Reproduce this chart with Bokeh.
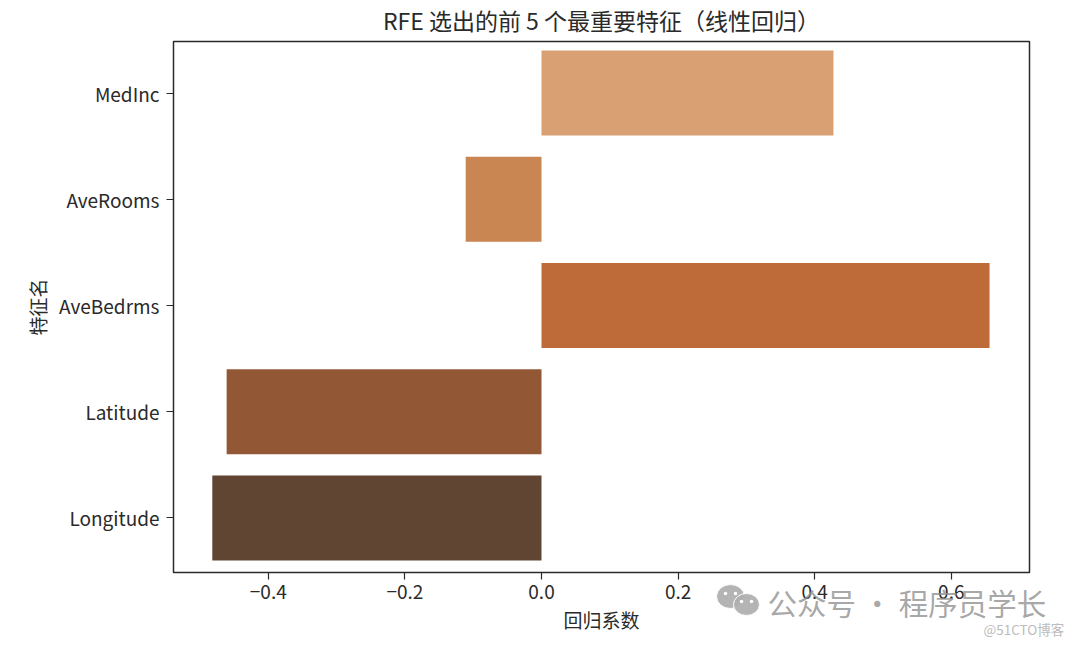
from bokeh.plotting import figure
from bokeh.embed import file_html
from bokeh.resources import INLINE
from bokeh.layouts import column
from bokeh.models import Range1d, FixedTicker
from bokeh.core.properties import value

features = ["MedInc", "AveRooms", "AveBedrms", "Latitude", "Longitude"]
coefs = [0.4275, -0.111, 0.656, -0.461, -0.482]
colors = ["#d9a074", "#c98552", "#bf6b39", "#925835", "#604533"]
x_ticks = [-0.4, -0.2, 0.0, 0.2, 0.4, 0.6]
title = "RFE 选出的前 5 个最重要特征（线性回归）"
xlabel = "回归系数"
ylabel = "特征名"
wm = "公众号 · 程序员学长"
wm2 = "@51CTO博客"

F = "Noto Sans CJK SC"
W, H = 1072, 637
p = figure(width=W, height=H, output_backend="svg", toolbar_location=None,
           y_range=Range1d(4.513, -0.485), x_range=Range1d(-0.5388, 0.7145))
p.frame_align = False
p.min_border_left = 173
p.min_border_right = W - 1029
p.min_border_top = 41
p.min_border_bottom = H - 572
p.background_fill_color = "white"
p.border_fill_color = "white"
p.outline_line_color = "#2a2a2a"
p.outline_line_width = 1.5
p.grid.visible = False

ys = list(range(len(features)))
p.hbar(y=ys, left=0, right=coefs, height=0.8, fill_color=colors, line_color=None)

p.xaxis.ticker = FixedTicker(ticks=x_ticks)
p.xaxis.major_label_overrides = {t: (f"{t:.1f}".replace("-", "−")) for t in x_ticks}
p.yaxis.ticker = FixedTicker(ticks=ys)
p.yaxis.major_label_overrides = dict(zip(ys, features))
for ax in (p.xaxis, p.yaxis):
    ax.axis_line_color = None
    ax.major_tick_line_color = "#2a2a2a"
    ax.major_tick_line_width = 1.2
    ax.major_tick_out = 7
    ax.major_tick_in = 0
    ax.minor_tick_line_color = None
    ax.major_label_text_font = F
    ax.major_label_text_font_size = "19px"
    ax.major_label_text_color = "#2a2a2a"
    ax.axis_label_text_font = F
    ax.axis_label_text_font_size = "19px"
    ax.axis_label_text_font_style = "normal"
    ax.axis_label_text_color = "#2a2a2a"
p.xaxis.axis_label = xlabel
p.yaxis.axis_label = ylabel
p.xaxis.axis_label_standoff = 4
p.yaxis.axis_label_standoff = 5
p.xaxis.major_label_standoff = 5
p.yaxis.major_label_standoff = 7

p.title.text = title
p.title.text_font = F
p.title.text_font_size = "23px"
p.title.text_font_style = "normal"
p.title.text_color = "#2a2a2a"
p.title.align = "center"
p.title.vertical_align = "top"
p.title.standoff = 5

# Watermark overlay: a transparent strip laid over the bottom of the chart, in picture pixels
o = figure(width=W, height=65, output_backend="svg", toolbar_location=None,
           x_range=Range1d(0, W), y_range=Range1d(H, H - 65), margin=(-65, 0, 0, 0),
           min_border=0, min_border_left=0, min_border_right=0, min_border_top=0, min_border_bottom=0)
o.frame_align = False
o.axis.visible = False
o.grid.visible = False
o.outline_line_color = None
o.background_fill_alpha = 0
o.border_fill_alpha = 0
o.ellipse(x=[730, 746], y=[596, 604], width=[28, 26], height=[24, 22],
          fill_color="#b0b0b0", line_color="white", line_width=1, fill_alpha=0.95)
o.scatter(x=[725, 735, 741, 751], y=[593, 593, 601, 601], size=3.5, fill_color="white", line_color=None)
o.text(x=[767], y=[601], text=[wm], text_font=value(F), text_font_size="29.5px",
       text_color="#909090", text_alpha=0.8, text_baseline="middle")
o.text(x=[983], y=[628], text=[wm2], text_font=value(F), text_font_size="13.5px",
       text_color="#bcbcbc", text_baseline="middle")

open("out.html", "w").write(file_html(column(p, o, spacing=0), INLINE))
